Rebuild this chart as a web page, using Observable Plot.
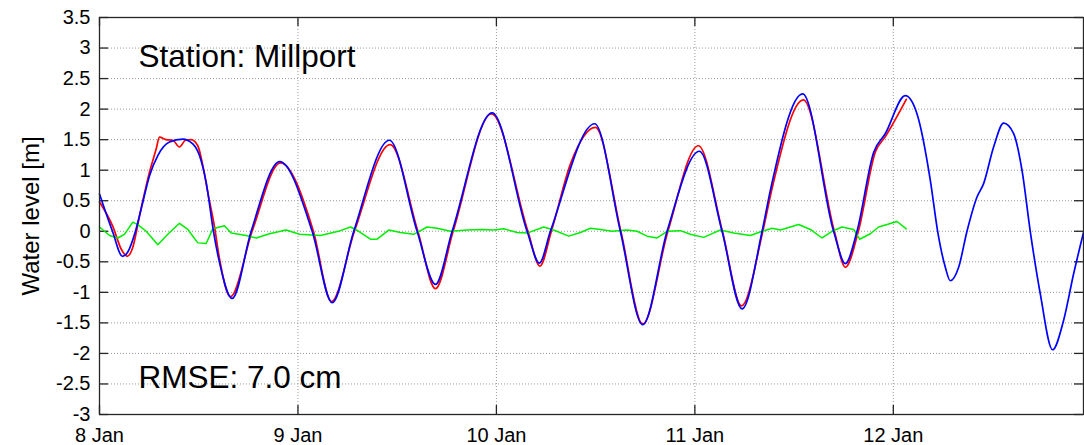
<!DOCTYPE html>
<html>
<head>
<meta charset="utf-8">
<script src="https://cdn.jsdelivr.net/npm/d3@7"></script>
<script src="https://cdn.jsdelivr.net/npm/@observablehq/plot@0.6"></script>
<style>
  html, body { margin: 0; padding: 0; background: #fff; }
</style>
</head>
<body>
<div id="chart"></div>
<script>
// ---- Data (hours since 8 Jan 00:00, water level in m) ----
const stationTitle = "Station: Millport";
const rmseText = "RMSE: 7.0 cm";
const yLabel = "Water level [m]";

const xTickDays = [8, 9, 10, 11, 12];
const xTickLabels = ["8 Jan", "9 Jan", "10 Jan", "11 Jan", "12 Jan"];
const yTicks = [-3, -2.5, -2, -1.5, -1, -0.5, 0, 0.5, 1, 1.5, 2, 2.5, 3, 3.5];
const xEndHours = 119;

// Model (blue)
const modelHours = [0, 1.57, 2.78, 3.42, 4.35, 5.24, 6.05, 7.05, 8.46, 10.07, 11.28, 12.09, 12.9, 13.78, 14.51,
  16.04, 18.34, 21.8, 25.72, 28.14, 30.75, 35.06, 38.41, 40.63, 42.65, 47.48, 51.71, 53.2, 54.53,
  59.89, 62.99, 65.69, 68.64, 72.55, 75.29, 77.71, 80.13, 81.13, 85.04, 88.78, 90.2, 91.61, 93.62,
  95.04, 97.45, 98.87, 100.48, 101.36, 102.29, 102.89, 103.9, 104.91, 106.12, 106.92, 108.13,
  109.34, 110.55, 111.56, 112.56, 113.77, 115.26, 116.59, 117.8, 119];
const modelLevels = [0.61, 0.0, -0.41, -0.34, 0.0, 0.48, 0.91, 1.24, 1.46, 1.51, 1.43, 1.24, 0.8, 0.0, -0.51,
  -1.1, 0.0, 1.14, 0.0, -1.17, 0.0, 1.49, 0.0, -0.87, 0.0, 1.94, 0.0, -0.52, 0.0,
  1.76, 0.0, -1.53, 0.0, 1.31, 0.0, -1.27, 0.0, 0.67, 2.25, 0.0, -0.53, 0.0, 1.29,
  1.6, 2.22, 1.92, 0.83, 0.0, -0.59, -0.81, -0.59, 0.0, 0.56, 0.78, 1.38,
  1.77, 1.6, 1.0, 0.0, -1.02, -1.94, -1.46, -0.7, -0.02];

// Observed (red)
const obsHours = [0, 1.61, 2.62, 3.35, 4.03, 4.84, 6.05, 6.86, 7.25, 8.06, 8.86, 9.67, 10.4, 11.09, 11.89,
  12.49, 13.09, 13.9, 14.51, 15.84, 18.46, 21.88, 25.87, 28.05, 30.83, 35.15, 38.5, 40.63, 42.77,
  47.4, 51.81, 53.26, 54.65, 56.95, 59.97, 63.05, 65.69, 68.74, 72.43, 75.33, 77.63, 80.22, 81.37,
  85.12, 88.87, 90.2, 91.77, 93.83, 95.04, 97.57];
const obsLevels = [0.48, 0.08, -0.29, -0.41, -0.26, 0.25, 0.97, 1.35, 1.54, 1.5, 1.49, 1.38, 1.49, 1.5, 1.4,
  1.08, 0.64, 0.08, -0.45, -1.07, 0.0, 1.12, 0.0, -1.15, 0.0, 1.42, 0.0, -0.94, 0.0,
  1.92, 0.0, -0.57, 0.0, 1.1, 1.7, 0.0, -1.52, 0.0, 1.4, 0.0, -1.22, 0.0, 0.72,
  2.15, 0.0, -0.59, 0.0, 1.3, 1.55, 2.16];

// Residual (green)
const resHours = [0, 1.21, 2.21, 3.02, 4.03, 4.63, 5.65, 7.05, 8.26, 9.67, 10.68, 11.89, 12.9, 13.7, 15.11,
  15.92, 17.74, 18.95, 20.55, 22.57, 24.18, 26.72, 29.14, 30.35, 31.35, 32.77, 33.58, 34.98, 36.39,
  38.0, 39.62, 40.83, 42.44, 44.46, 46.27, 47.67, 48.88, 50.5, 51.71, 53.72, 54.93, 56.74, 58.16,
  59.37, 60.58, 61.99, 63.8, 65.01, 66.22, 67.43, 68.64, 70.25, 71.46, 73.07, 73.88, 75.09, 76.7,
  78.72, 80.13, 81.34, 82.34, 84.55, 85.97, 87.38, 88.59, 89.8, 91.2, 91.93, 93.22, 94.23, 95.24,
  96.45, 97.57];
const resLevels = [0.07, -0.07, -0.11, -0.05, 0.15, 0.11, 0.0, -0.22, -0.05, 0.13, 0.03, -0.19, -0.2, 0.04, 0.09,
  -0.03, -0.07, -0.11, -0.04, 0.02, -0.05, -0.07, 0.01, 0.07, 0.0, -0.13, -0.13, 0.02, -0.02,
  -0.05, 0.07, 0.05, 0.0, 0.02, 0.03, 0.02, 0.04, -0.02, -0.03, 0.07, 0.02, -0.08, -0.02,
  0.05, 0.03, 0.0, 0.02, 0.0, -0.08, -0.11, 0.0, 0.01, -0.05, -0.1, -0.05, 0.02, -0.03,
  -0.07, 0.0, 0.05, 0.02, 0.11, 0.03, -0.11, 0.0, 0.07, 0.03, -0.13, -0.04, 0.07, 0.11,
  0.16, 0.04];

// ---- Build tables ----
const t0 = Date.UTC(2014, 0, 8);
const toDate = h => new Date(t0 + h * 3600e3);
const dayDate = d => new Date(Date.UTC(2014, 0, d));
const model = modelHours.map((h, i) => ({date: toDate(h), v: modelLevels[i]}));
const obs = obsHours.map((h, i) => ({date: toDate(h), v: obsLevels[i]}));
const res = resHours.map((h, i) => ({date: toDate(h), v: resLevels[i]}));
const xTicks = xTickDays.map(dayDate);
const labelOf = new Map(xTicks.map((d, i) => [+d, xTickLabels[i]]));

const W = 1084, H = 445;
const mL = 99, mR = 1, mT = 17, mB = 31;
const pw = W - mL - mR, ph = H - mT - mB;
const font = "'Liberation Sans', Arial, sans-serif";
const tickLen = 9;

const chart = Plot.plot({
  width: W,
  height: H,
  marginLeft: mL,
  marginRight: mR,
  marginTop: mT,
  marginBottom: mB,
  style: {fontFamily: font, fontSize: "20px", background: "#fff", color: "#000"},
  x: {type: "utc", domain: [toDate(0), toDate(xEndHours)]},
  y: {domain: [-3, 3.5]},
  marks: [
    Plot.gridX(xTicks, {stroke: "#9a9a9a", strokeOpacity: 1, strokeDasharray: "1,2", strokeWidth: 1}),
    Plot.gridY(yTicks, {stroke: "#9a9a9a", strokeOpacity: 1, strokeDasharray: "1,2", strokeWidth: 1}),
    Plot.axisX(xTicks, {tickSize: 0, tickPadding: 13, tickFormat: d => labelOf.get(+d), fontSize: 20, fill: "#000", label: null}),
    Plot.axisY(yTicks, {tickSize: 0, tickPadding: 9, tickFormat: d => String(d), fontSize: 20, fill: "#000", label: null}),
    // inward ticks on all four sides
    Plot.tickY(yTicks, {y: d => d, insetRight: pw - tickLen, stroke: "#262626", strokeWidth: 1.3}),
    Plot.tickY(yTicks, {y: d => d, insetLeft: pw - tickLen, stroke: "#262626", strokeWidth: 1.3}),
    Plot.tickX(xTicks, {x: d => d, insetTop: ph - tickLen, stroke: "#262626", strokeWidth: 1.3}),
    Plot.tickX(xTicks, {x: d => d, insetBottom: ph - tickLen, stroke: "#262626", strokeWidth: 1.3}),
    Plot.line(obs, {x: "date", y: "v", stroke: "#ff0000", strokeWidth: 1.7, curve: "monotone-x"}),
    Plot.line(res, {x: "date", y: "v", stroke: "#00ee00", strokeWidth: 1.5}),
    Plot.line(model, {x: "date", y: "v", stroke: "#0000ff", strokeWidth: 1.7, curve: "monotone-x"}),
    Plot.frame({stroke: "#262626", strokeWidth: 1.3}),
    Plot.text([stationTitle], {frameAnchor: "top-left", dx: 39, dy: 49, lineAnchor: "bottom", textAnchor: "start", fontSize: 31.5, fill: "#000"}),
    Plot.text([rmseText], {frameAnchor: "bottom-left", dx: 39, dy: -27, lineAnchor: "bottom", textAnchor: "start", fontSize: 31.5, fill: "#000"}),
    Plot.text([yLabel], {frameAnchor: "left", dx: -68, dy: 0, rotate: -90, textAnchor: "middle", lineAnchor: "middle", fontSize: 24, fill: "#000"})
  ]
});
document.getElementById("chart").appendChild(chart);
</script>
</body>
</html>
